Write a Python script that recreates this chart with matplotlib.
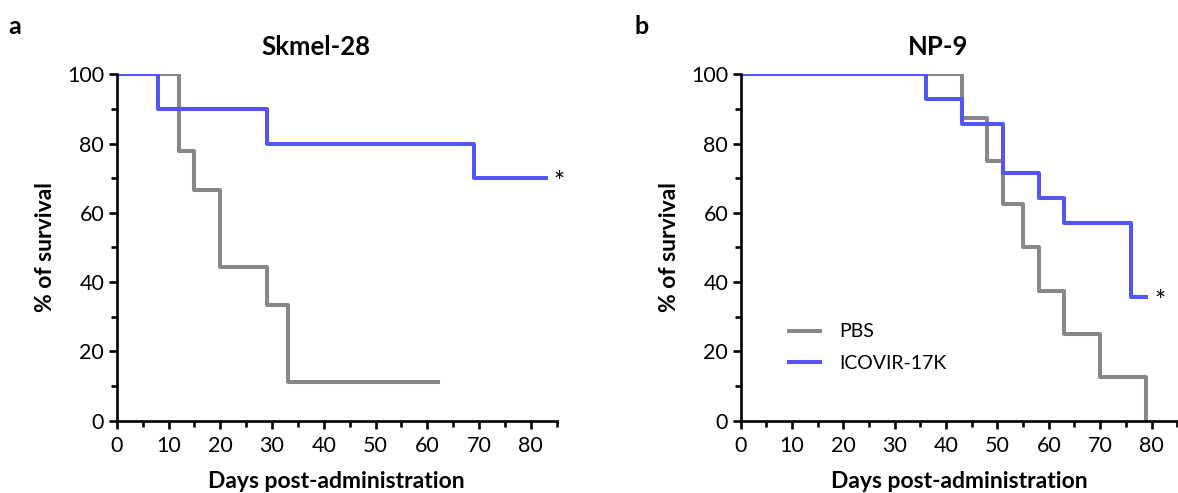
import matplotlib
matplotlib.use('Agg')
import matplotlib.pyplot as plt
from matplotlib.ticker import MultipleLocator
import matplotlib.transforms as mtransforms

plt.rcParams['font.family'] = ['Lato', 'DejaVu Sans']

# Data: Kaplan-Meier steps (day, % survival)
skmel_pbs_days = [0, 12, 15, 20, 29, 33, 62]
skmel_pbs_surv = [100, 77.8, 66.7, 44.4, 33.3, 11.1, 11.1]
skmel_ico_days = [0, 8, 29, 69, 83]
skmel_ico_surv = [100, 90, 80, 70, 70]

np9_pbs_days = [0, 43, 48, 51, 55, 58, 63, 70, 79]
np9_pbs_surv = [100, 87.5, 75, 62.5, 50, 37.5, 25, 12.5, 0]
np9_ico_days = [0, 36, 43, 51, 58, 63, 76, 79]
np9_ico_surv = [100, 92.9, 85.7, 71.4, 64.3, 57.1, 35.7, 35.7]

grey = '#878787'
blue = '#5555f5'

fig = plt.figure(figsize=(11.78, 4.93), dpi=100)
ax1 = fig.add_axes([0.0991, 0.1467, 0.3735, 0.7026])
ax2 = fig.add_axes([0.6288, 0.1467, 0.3705, 0.7026])


def style(ax, title, panel, panel_x):
    ax.set_xlim(0, 85)
    ax.set_ylim(0, 100)
    ax.spines['top'].set_visible(False)
    ax.spines['right'].set_visible(False)
    for s in ('left', 'bottom'):
        ax.spines[s].set_linewidth(1.9)
    ax.xaxis.set_major_locator(MultipleLocator(10))
    ax.xaxis.set_minor_locator(MultipleLocator(5))
    ax.yaxis.set_major_locator(MultipleLocator(20))
    ax.yaxis.set_minor_locator(MultipleLocator(10))
    ax.tick_params(which='major', length=6, width=1.9, labelsize=15.5, pad=3)
    ax.tick_params(axis='x', which='major', pad=5)
    ax.tick_params(which='minor', length=4, width=1.9)
    ax.set_xlabel('Days post-administration', fontsize=16.5, fontweight='bold', labelpad=11)
    ax.set_ylabel('% of survival', fontsize=16.5, fontweight='bold', labelpad=8)
    trans = mtransforms.blended_transform_factory(ax.transData, fig.transFigure)
    ax.text(38.5, 0.905, title, transform=trans, ha='center', va='center',
            fontsize=18.5, fontweight='bold')
    fig.text(panel_x, 0.947, panel, ha='center', va='center',
             fontsize=18, fontweight='bold')


ax1.step(skmel_pbs_days, skmel_pbs_surv, where='post', color=grey, lw=2.9, label='PBS')
ax1.step(skmel_ico_days, skmel_ico_surv, where='post', color=blue, lw=2.9, label='ICOVIR-17K')
ax1.text(85.5, 68.5, '*', fontsize=19, ha='center', va='center')
style(ax1, 'Skmel-28', 'a', 0.0127)

ax2.step(np9_pbs_days, np9_pbs_surv, where='post', color=grey, lw=2.9, label='PBS')
ax2.step(np9_ico_days, np9_ico_surv, where='post', color=blue, lw=2.9, label='ICOVIR-17K')
ax2.text(81.7, 34.2, '*', fontsize=19, ha='center', va='center')
style(ax2, 'NP-9', 'b', 0.545)

ax2.legend(loc='lower left', bbox_to_anchor=(0.07, 0.09), frameon=False,
           fontsize=14, handlelength=1.6, handletextpad=1.0, labelspacing=0.75)

fig.savefig('out.png', dpi=100)
